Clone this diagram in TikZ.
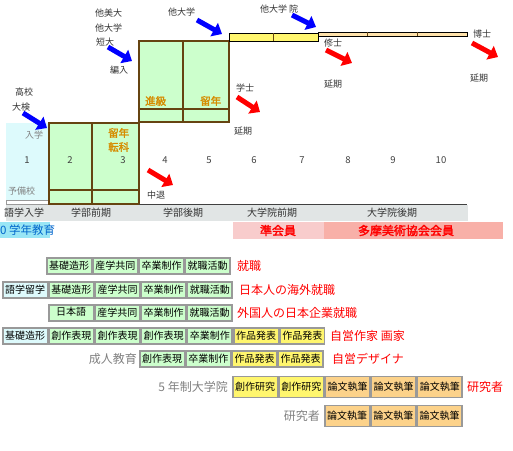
\documentclass[tikz,border=0pt]{standalone}
\usepackage{fontspec}
\setmainfont{Noto Sans CJK JP}[AutoFakeBold=2]
\usetikzlibrary{arrows.meta,positioning}
\definecolor{cellgreen}{RGB}{204,255,204}
\definecolor{cellcyan}{RGB}{221,250,252}
\definecolor{cellyellow}{RGB}{255,246,110}
\definecolor{cellorange}{RGB}{252,210,138}
\definecolor{cellframe}{RGB}{153,153,153}
\definecolor{framebrown}{RGB}{102,68,17}
\definecolor{bandgray}{RGB}{225,229,229}
\definecolor{barbeige}{RGB}{255,226,170}
\definecolor{statecolor}{RGB}{214,140,0}
\definecolor{educyan}{RGB}{153,230,245}
\definecolor{edublue}{RGB}{0,102,204}
\definecolor{memberpink}{RGB}{248,204,204}
\definecolor{membersalmon}{RGB}{248,176,168}
\tikzset{
  cell/.style={draw=cellframe,line width=1.6pt,fill=cellgreen,minimum width=44.6pt,
    minimum height=16.4pt,inner sep=0pt,font=\fontsize{10}{10}\selectfont},
  langcell/.style={cell,fill=cellcyan},
  showcell/.style={cell,fill=cellyellow},
  thesiscell/.style={cell,fill=cellorange,minimum height=21pt},
  goal/.style={anchor=west,text=red,inner sep=0pt,font=\fontsize{12}{12}\selectfont},
  course/.style={anchor=east,text=gray,inner sep=0pt,font=\fontsize{12}{12}\selectfont},
  frame/.style={draw=framebrown,line width=1.2pt},
  yearnum/.style={text=darkgray,font=\fontsize{9.5}{10}\selectfont},
  note/.style={anchor=west,inner sep=0pt,text=black!80,font=\fontsize{9}{9}\selectfont},
  stagelabel/.style={text=black!80,font=\fontsize{10}{10}\selectfont},
  statelabel/.style={anchor=west,inner sep=0pt,text=statecolor,font=\bfseries\fontsize{10.5}{11}\selectfont},
  bluearrow/.style={-{Triangle[length=9pt,width=15pt]},line width=5pt,blue},
  redarrow/.style={-{Triangle[length=9pt,width=15pt]},line width=5pt,red}
}

\begin{document}
\begin{tikzpicture}[x=1pt,y=-1pt]
  \useasboundingbox (0,0) rectangle (513,450);
  % --- timeline of the ten school years
  \fill[cellcyan] (6,123) rectangle (49,200);
  \draw[cellframe,thin] (6,200) rectangle (49,204);
  \fill[cellgreen] (49,123) rectangle (139,204);
  \draw[frame] (49,123) rectangle (139,204);
  \draw[frame] (92,123)--(92,204) (49,190)--(139,190);
  \fill[cellgreen] (139,41) rectangle (229,122);
  \draw[frame] (139,41) rectangle (229,122);
  \draw[frame] (183,41)--(183,122) (139,109)--(229,109);
  \draw[fill=cellyellow,thick] (229,33) rectangle (318,41);
  \draw[framebrown,thick] (273,33)--(273,41);
  \draw[fill=barbeige,thick] (318,32) rectangle (467,36);
  \draw[framebrown] (367,32)--(367,36) (417,32)--(417,36);
  \draw[darkgray,thick] (139,204)--(467,204);
  \fill[bandgray] (6,205) rectangle (468,221);
  \node[stagelabel,anchor=west,inner sep=0pt] (gogaku) at (4,213) {語学入学};
  \node[stagelabel] (zenki) at (91,213) {学部前期};
  \node[stagelabel] (kouki) at (183,213) {学部後期};
  \node[stagelabel] (inzenki) at (272,213) {大学院前期};
  \node[stagelabel] (inkouki) at (392,213) {大学院後期};
  \foreach \x/\n in {27/1,70/2,123/3,165/4,209/5,254/6,302/7,348/8,393/9,441/10}
    \node[yearnum] (year\n) at (\x,160) {\n};
  % entries and exits
  \node[note] (koukou) at (15,92) {高校};
  \node[note] (daiken) at (12,107) {大検};
  \node[note,text=gray] (nyugaku) at (25,135) {入学};
  \node[note,text=gray] (yobikou) at (8,191) {予備校};
  \node[note] (tabidai) at (95,13) {他美大};
  \node[note] (tadaigaku) at (95,28) {他大学};
  \node[note] (tandai) at (96,42) {短大};
  \node[note] (hennyu) at (110,70) {編入};
  \node[note] (tadai) at (168,12) {他大学};
  \node[note] (tadaiin) at (260,9) {他大学 院};
  \node[note] (gakushi) at (236,88) {学士};
  \node[note] (enki1) at (234,131) {延期};
  \node[note] (shushi) at (324,43) {修士};
  \node[note] (enki2) at (324,84) {延期};
  \node[note] (hakushi) at (473,34) {博士};
  \node[note] (enki3) at (470,78) {延期};
  \node[note] (chutai) at (147,195) {中退};
  \node[statelabel] (shinkyu) at (145,101) {進級};
  \node[statelabel] (ryunen1) at (200,101) {留年};
  \node[statelabel] (ryunen2) at (108,133) {留年};
  \node[statelabel] (tenka) at (108,147) {転科};
  \draw[bluearrow] (23,113)--(47,128);
  \draw[bluearrow] (108,47)--(132,61);
  \draw[bluearrow] (197,20)--(222,34);
  \draw[bluearrow] (292,15)--(316,27);
  \draw[redarrow] (148,170)--(173,185);
  \draw[redarrow] (237,97)--(260,112);
  \draw[redarrow] (326,50)--(352,63);
  \draw[redarrow] (472,43)--(498,57);
  % membership band
  \fill[educyan] (0,222) rectangle (50,238);
  \node[anchor=west,inner sep=0pt,text=edublue,font=\fontsize{11.5}{12}\selectfont] (kyouiku) at (0,230) {0 学年教育};
  \fill[memberpink] (233,222) rectangle (324,239);
  \node[text=red,font=\bfseries\fontsize{12}{12}\selectfont] (junkaiin) at (278,230.5) {準会員};
  \fill[membersalmon] (324,222) rectangle (503,239);
  \node[text=red,font=\bfseries\fontsize{12}{12}\selectfont] (kyoukai) at (406,230.5) {多摩美術協会会員};
  % --- course table
  \node[cell,anchor=west] (a1) at (46,266) {基礎造形};
  \node[cell,right=0pt of a1] (a2) {産学共同};
  \node[cell,right=0pt of a2] (a3) {卒業制作};
  \node[cell,right=0pt of a3] (a4) {就職活動};
  \node[goal] (agoal) at (237,266) {就職};
  \node[langcell,anchor=west] (b0) at (2,290) {語学留学};
  \node[cell,right=0pt of b0] (b1) {基礎造形};
  \node[cell,right=0pt of b1] (b2) {産学共同};
  \node[cell,right=0pt of b2] (b3) {卒業制作};
  \node[cell,right=0pt of b3] (b4) {就職活動};
  \node[goal] (bgoal) at (239,290) {日本人の海外就職};
  \node[cell,anchor=west,text depth=3pt] (c1) at (48,313) {日本語};
  \node[cell,right=0pt of c1] (c2) {産学共同};
  \node[cell,right=0pt of c2] (c3) {卒業制作};
  \node[cell,right=0pt of c3] (c4) {就職活動};
  \node[goal] (cgoal) at (237,313) {外国人の日本企業就職};
  \node[langcell,anchor=west] (d0) at (2,336) {基礎造形};
  \node[cell,right=0pt of d0] (d1) {創作表現};
  \node[cell,right=0pt of d1] (d2) {創作表現};
  \node[cell,right=0pt of d2] (d3) {創作表現};
  \node[cell,right=0pt of d3] (d4) {卒業制作};
  \node[showcell,right=0pt of d4] (d5) {作品発表};
  \node[showcell,right=0pt of d5] (d6) {作品発表};
  \node[goal] (dgoal) at (330,336) {自営作家 画家};
  \node[course] (ecourse) at (137,359) {成人教育};
  \node[cell,anchor=west] (e1) at (139,359) {創作表現};
  \node[cell,right=0pt of e1] (e2) {卒業制作};
  \node[showcell,right=0pt of e2] (e3) {作品発表};
  \node[showcell,right=0pt of e3] (e4) {作品発表};
  \node[goal] (egoal) at (332,359) {自営デザイナ};
  \node[course] (fcourse) at (228,387) {5 年制大学院};
  \node[showcell,minimum height=21pt,anchor=west] (f1) at (232,387) {創作研究};
  \node[showcell,minimum height=21pt,right=0pt of f1] (f2) {創作研究};
  \node[thesiscell,right=0pt of f2] (f3) {論文執筆};
  \node[thesiscell,right=0pt of f3] (f4) {論文執筆};
  \node[thesiscell,right=0pt of f4] (f5) {論文執筆};
  \node[goal] (fgoal) at (467,387) {研究者};
  \node[course] (gcourse) at (320,416) {研究者};
  \node[thesiscell,anchor=west] (g1) at (324,416) {論文執筆};
  \node[thesiscell,right=0pt of g1] (g2) {論文執筆};
  \node[thesiscell,right=0pt of g2] (g3) {論文執筆};
\end{tikzpicture}
\end{document}
